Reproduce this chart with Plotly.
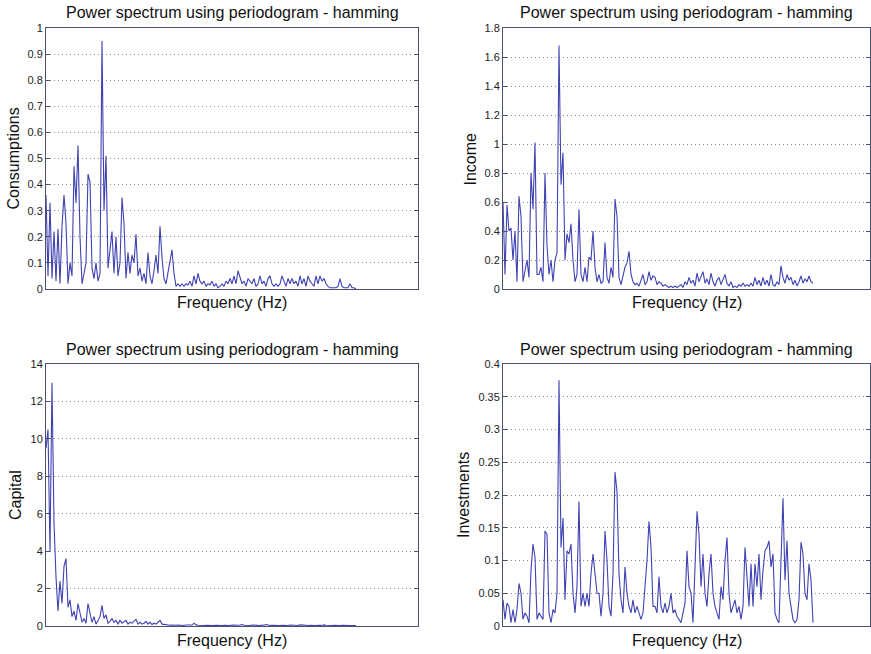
import numpy as np
import plotly.graph_objects as go

TITLE = "Power spectrum using periodogram - hamming"
XLABEL = "Frequency (Hz)"

consumptions = [
    0.36, 0.05, 0.33, 0.04, 0.22, 0.03, 0.23, 0.02, 0.24, 0.36,
    0.25, 0.02, 0.10, 0.05, 0.47, 0.33, 0.55, 0.20, 0.02, 0.06,
    0.10, 0.44, 0.41, 0.08, 0.04, 0.10, 0.03, 0.06, 0.95, 0.30,
    0.51, 0.08, 0.15, 0.22, 0.06, 0.20, 0.05, 0.10, 0.35, 0.25,
    0.04, 0.14, 0.06, 0.13, 0.10, 0.21, 0.05, 0.08, 0.03, 0.06,
    0.02, 0.14, 0.05, 0.02, 0.07, 0.13, 0.06, 0.24, 0.12, 0.04,
    0.02, 0.06, 0.10, 0.15, 0.06, 0.01, 0.02, 0.01, 0.02, 0.01,
    0.02, 0.015, 0.03, 0.01, 0.05, 0.02, 0.06, 0.03, 0.02, 0.03,
    0.01, 0.02, 0.015, 0.03, 0.01, 0.02, 0.005, 0.01, 0.02, 0.01,
    0.03, 0.02, 0.04, 0.02, 0.05, 0.02, 0.07, 0.04, 0.02, 0.03,
    0.01, 0.04, 0.03, 0.02, 0.04, 0.01, 0.02, 0.05, 0.02, 0.03,
    0.01, 0.04, 0.05, 0.02, 0.01, 0.02, 0.01, 0.02, 0.05, 0.03,
    0.01, 0.04, 0.02, 0.04, 0.02, 0.03, 0.01, 0.05, 0.02, 0.04,
    0.01, 0.05, 0.03, 0.02, 0.01, 0.05, 0.02, 0.05, 0.03, 0.04,
    0.02, 0.01, 0.005, 0.005, 0.005, 0.005, 0.01, 0.04, 0.01, 0.005,
    0.005, 0.005, 0.02, 0.005, 0.005, 0.0,
]

income = [
    0.60, 0.10, 0.58, 0.40, 0.42, 0.20, 0.40, 0.05, 0.64, 0.50,
    0.05, 0.12, 0.20, 0.08, 0.80, 0.55, 1.01, 0.10, 0.10, 0.15,
    0.05, 0.80, 0.30, 0.10, 0.20, 0.05, 0.20, 0.25, 1.68, 0.72,
    0.94, 0.20, 0.38, 0.32, 0.45, 0.20, 0.05, 0.10, 0.55, 0.10,
    0.05, 0.15, 0.05, 0.22, 0.20, 0.40, 0.15, 0.05, 0.10, 0.04,
    0.05, 0.32, 0.08, 0.04, 0.15, 0.08, 0.62, 0.50, 0.08, 0.03,
    0.10, 0.15, 0.18, 0.26, 0.10, 0.05, 0.03, 0.04, 0.02, 0.06,
    0.10, 0.03, 0.05, 0.12, 0.06, 0.09, 0.08, 0.03, 0.05, 0.04,
    0.02, 0.03, 0.02, 0.01, 0.02, 0.01, 0.02, 0.01, 0.02, 0.03,
    0.01, 0.05, 0.03, 0.08, 0.04, 0.06, 0.02, 0.11, 0.05, 0.09,
    0.12, 0.04, 0.07, 0.03, 0.11, 0.05, 0.02, 0.06, 0.08, 0.03,
    0.06, 0.10, 0.04, 0.02, 0.05, 0.01, 0.02, 0.01, 0.03, 0.02,
    0.04, 0.02, 0.03, 0.02, 0.04, 0.02, 0.08, 0.03, 0.06, 0.02,
    0.08, 0.03, 0.06, 0.02, 0.10, 0.03, 0.02, 0.05, 0.03, 0.16,
    0.08, 0.04, 0.10, 0.06, 0.08, 0.03, 0.06, 0.02, 0.05, 0.09,
    0.04, 0.07, 0.05, 0.09, 0.05, 0.04,
]

capital = [
    9.5, 10.5, 4.0, 13.0, 5.5, 2.6, 0.8, 2.4, 1.2, 3.2,
    3.6, 1.0, 1.4, 0.5, 0.8, 0.3, 1.2, 0.6, 0.2, 0.4,
    0.15, 1.2, 0.6, 0.2, 0.5, 0.1, 0.3, 0.5, 1.1, 0.4,
    0.6, 0.15, 0.25, 0.4, 0.2, 0.3, 0.1, 0.3, 0.15, 0.25,
    0.3, 0.1, 0.2, 0.15, 0.25, 0.35, 0.1, 0.2, 0.1, 0.15,
    0.25, 0.1, 0.2, 0.08, 0.15, 0.1, 0.2, 0.3, 0.1, 0.08,
    0.05, 0.06, 0.04, 0.05, 0.03, 0.04, 0.05, 0.03, 0.04, 0.03,
    0.05, 0.04, 0.06, 0.05, 0.15, 0.06, 0.04, 0.03, 0.05, 0.03,
    0.04, 0.03, 0.05, 0.04, 0.03, 0.04, 0.03, 0.05, 0.03, 0.04,
    0.03, 0.04, 0.03, 0.05, 0.04, 0.03, 0.04, 0.05, 0.08, 0.04,
    0.03, 0.04, 0.03, 0.05, 0.04, 0.03, 0.04, 0.03, 0.05, 0.04,
    0.08, 0.04, 0.03, 0.04, 0.03, 0.05, 0.04, 0.03, 0.04, 0.03,
    0.04, 0.03, 0.05, 0.04, 0.03, 0.04, 0.03, 0.06, 0.04, 0.03,
    0.04, 0.03, 0.05, 0.04, 0.03, 0.04, 0.03, 0.04, 0.03, 0.06,
    0.04, 0.03, 0.04, 0.03, 0.04, 0.03, 0.04, 0.03, 0.04, 0.03,
    0.03, 0.04, 0.03, 0.03, 0.02, 0.02,
]

investments = [
    0.040, 0.010, 0.035, 0.030, 0.005, 0.025, 0.005, 0.025, 0.065, 0.050,
    0.010, 0.020, 0.015, 0.005, 0.085, 0.125, 0.105, 0.010, 0.020, 0.015,
    0.010, 0.145, 0.140, 0.020, 0.005, 0.025, 0.020, 0.050, 0.375, 0.120,
    0.165, 0.040, 0.115, 0.110, 0.125, 0.050, 0.020, 0.060, 0.190, 0.030,
    0.050, 0.030, 0.050, 0.030, 0.080, 0.110, 0.080, 0.050, 0.050, 0.015,
    0.050, 0.145, 0.100, 0.030, 0.015, 0.080, 0.235, 0.205, 0.080, 0.040,
    0.020, 0.090, 0.050, 0.030, 0.020, 0.040, 0.020, 0.030, 0.020, 0.010,
    0.020, 0.060, 0.100, 0.160, 0.120, 0.030, 0.030, 0.020, 0.075, 0.030,
    0.020, 0.035, 0.020, 0.030, 0.050, 0.020, 0.025, 0.015, 0.010, 0.005,
    0.020, 0.035, 0.115, 0.060, 0.050, 0.005, 0.090, 0.175, 0.140, 0.060,
    0.110, 0.050, 0.030, 0.080, 0.110, 0.050, 0.030, 0.020, 0.010, 0.060,
    0.040, 0.100, 0.135, 0.050, 0.020, 0.030, 0.040, 0.020, 0.030, 0.010,
    0.030, 0.120, 0.070, 0.030, 0.095, 0.030, 0.095, 0.060, 0.110, 0.040,
    0.085, 0.115, 0.120, 0.130, 0.090, 0.110, 0.020, 0.010, 0.005, 0.110,
    0.195, 0.070, 0.130, 0.050, 0.030, 0.010, 0.005, 0.010, 0.040, 0.128,
    0.110, 0.050, 0.040, 0.095, 0.070, 0.005,
]

panels = [
    ("Consumptions", consumptions, [0, 1], 0.1),
    ("Income", income, [0, 1.8], 0.2),
    ("Capital", capital, [0, 14], 2),
    ("Investments", investments, [0, 0.4], 0.05),
]

W, H = 871, 654
# plot boxes in pixels: (left, right, top, bottom)
boxes = [
    (46, 418, 28, 289),
    (503, 870, 28, 289),
    (46, 418, 364, 626),
    (503, 870, 364, 626),
]
ylabel_x = [13, 470, 15, 463]
title_y = [13, 13, 349, 349]
xlabel_y = [302, 302, 640, 640]

FONT = "Liberation Sans, Arial, Helvetica, sans-serif"
LINE = "#3f42b2"
FRAME = "#4d4f6e"

fig = go.Figure()
annotations = []
for k, (name, vals, yr, dt) in enumerate(panels):
    l, r, t, b = boxes[k]
    n = k + 1
    xa = "x" if n == 1 else f"x{n}"
    ya = "y" if n == 1 else f"y{n}"
    freq = np.arange(len(vals))
    fig.add_trace(go.Scatter(x=freq, y=vals, mode="lines", xaxis=xa, yaxis=ya,
                             line=dict(color=LINE, width=1.1), showlegend=False,
                             hoverinfo="skip"))
    xrange = [0, (r - l) / 2.0]
    fig.update_layout(**{
        ("xaxis" if n == 1 else f"xaxis{n}"): dict(
            domain=[l / W, r / W], range=xrange, anchor=ya, automargin=False,
            showticklabels=False, ticks="", showgrid=False, zeroline=False,
            showline=True, linecolor=FRAME, linewidth=1, mirror=True),
        ("yaxis" if n == 1 else f"yaxis{n}"): dict(
            domain=[1 - b / H, 1 - t / H], range=yr, dtick=dt, tick0=0,
            anchor=xa, ticks="inside", ticklen=4, tickcolor=FRAME, automargin=False,
            showgrid=True, gridcolor="#8a8a8a", griddash="1px,3px", gridwidth=1,
            zeroline=False, showline=True, linecolor=FRAME, linewidth=1,
            mirror="ticks",
            tickfont=dict(family=FONT, size=11, color="#222"))
    })
    cx = (l + r) / 2 / W
    annotations.append(dict(text=TITLE, x=cx, y=1 - title_y[k] / H, xref="paper",
                            yref="paper", showarrow=False, xanchor="center",
                            yanchor="middle",
                            font=dict(family=FONT, size=16, color="#111")))
    annotations.append(dict(text=XLABEL, x=cx, y=1 - xlabel_y[k] / H, xref="paper",
                            yref="paper", showarrow=False, xanchor="center",
                            yanchor="middle",
                            font=dict(family=FONT, size=16, color="#111")))
    annotations.append(dict(text=name, x=ylabel_x[k] / W, y=1 - (t + b) / 2 / H,
                            xref="paper", yref="paper", showarrow=False,
                            textangle=-90, xanchor="center", yanchor="middle",
                            font=dict(family=FONT, size=16, color="#111")))

fig.update_layout(width=W, height=H,
                  margin=dict(l=0, r=0, t=0, b=0, pad=0, autoexpand=False),
                  paper_bgcolor="white", plot_bgcolor="white",
                  annotations=annotations)
fig.write_html("out.html", config={"displayModeBar": False},
               post_script="document.body.style.margin='0';document.body.style.overflow='hidden';")
